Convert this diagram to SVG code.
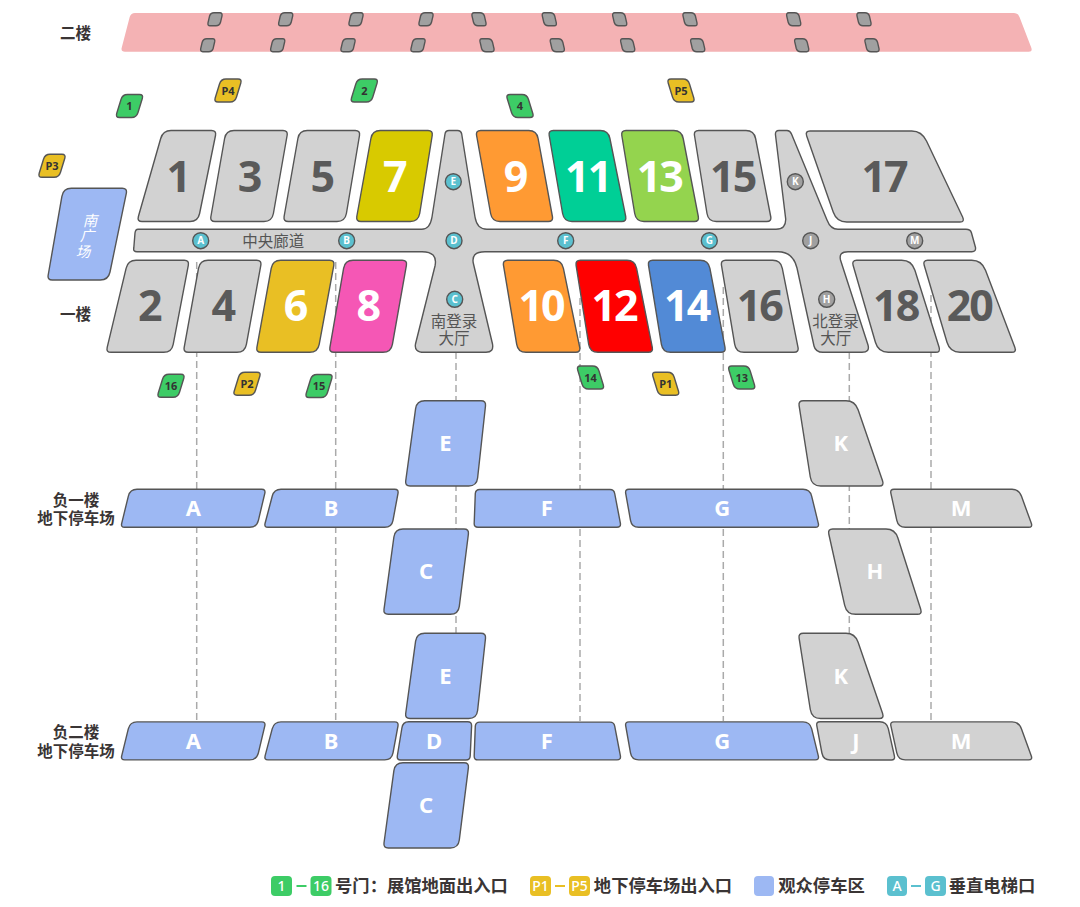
<svg xmlns="http://www.w3.org/2000/svg" width="1080" height="907" viewBox="0 0 1080 907">
<style>
text{font-family:"Noto Sans","Noto Sans CJK SC",sans-serif;text-anchor:middle;dominant-baseline:central}
.s{stroke:#555;stroke-width:1.4}
.g{fill:#d2d2d2}.b{fill:#9db8f3}.gr{fill:#3dcc66}.y{fill:#e9bf24}.e{fill:#a0a0a0}.t{fill:#5bc0cf}
.n{font-size:43px;font-weight:700;fill:#fff;letter-spacing:-2px;transform:translateY(-1.5px)}
.nd{font-size:43px;font-weight:700;fill:#5a5a5a;letter-spacing:-2px;transform:translateY(-1.5px)}
.l{font-size:22px;font-weight:700;fill:#fff;transform:translateY(-1.5px)}
.d{font-size:11px;font-weight:700;fill:#333}
.c{font-size:10px;font-weight:700;fill:#fff}
.z{font-size:15.5px;fill:#555}
.f{font-size:15.5px;font-weight:700;fill:#3a3535}
.k{font-size:17.3px;font-weight:700;fill:#3a3535}
.w{font-size:14px;font-weight:500;fill:#fff}
.dash{stroke:#aaa;stroke-width:1.5;stroke-dasharray:7 4;fill:none}
.p{font-size:14.5px;font-style:italic;fill:#fff}
</style>
<defs>
<path id="dr" d="M-2 -11.5H10Q14 -11.5 12.8 -7.5L8.5 6.5Q7 11.5 2 11.5H-10Q-14 11.5 -12.8 7.5L-8.5 -6.5Q-7 -11.5 -2 -11.5Z"/>
<path id="dl" transform="scale(-1 1)" d="M-2 -11.5H10Q14 -11.5 12.8 -7.5L8.5 6.5Q7 11.5 2 11.5H-10Q-14 11.5 -12.8 7.5L-8.5 -6.5Q-7 -11.5 -2 -11.5Z"/>
<path id="er" class="e s" d="M-1 -6.5H5Q7.5 -6.5 7 -3.5L5.5 3Q4.5 6.5 1 6.5H-5Q-7.5 6.5 -7 3.5L-5.5 -3Q-4.5 -6.5 -1 -6.5Z"/>
<path id="el" class="e s" transform="scale(-1 1)" d="M-1 -6.5H5Q7.5 -6.5 7 -3.5L5.5 3Q4.5 6.5 1 6.5H-5Q-7.5 6.5 -7 3.5L-5.5 -3Q-4.5 -6.5 -1 -6.5Z"/>
</defs>

<g id="connectors">
<path class="dash" d="M196.7 262V720M335.7 262V720M456 352V633M580 298V721M723.3 287V721M849.3 352V633M931 295V721"/>
</g>

<g id="floor-2">
<path fill="#f4b2b4" d="M135 13H1014Q1018 13 1019.5 17L1031.3 47.7Q1032.7 51.7 1028.7 51.7H125Q120.7 51.7 121.7 47.7L129.7 17Q131 13 135 13Z"/>
<use href="#er" x="215" y="19.3"/><use href="#er" x="285.7" y="19.3"/><use href="#er" x="356" y="19.3"/><use href="#er" x="426" y="19.3"/>
<g transform="translate(479 19.3)"><use href="#el"/></g><g transform="translate(549.3 19.3)"><use href="#el"/></g><g transform="translate(619.7 19.3)"><use href="#el"/></g><g transform="translate(690 19.3)"><use href="#el"/></g><g transform="translate(793.7 19.3)"><use href="#el"/></g><g transform="translate(864 19.3)"><use href="#el"/></g>
<use href="#er" x="207.7" y="45.2"/><use href="#er" x="277.7" y="45.2"/><use href="#er" x="348" y="45.2"/><use href="#er" x="418" y="45.2"/>
<g transform="translate(487 45.2)"><use href="#el"/></g><g transform="translate(557.3 45.2)"><use href="#el"/></g><g transform="translate(627.7 45.2)"><use href="#el"/></g><g transform="translate(697.7 45.2)"><use href="#el"/></g><g transform="translate(801.7 45.2)"><use href="#el"/></g><g transform="translate(872 45.2)"><use href="#el"/></g>
</g>

<g id="floor-labels">
<text class="f" x="75.5" y="32.7">二楼</text>
<text class="f" x="75.5" y="314">一楼</text>
<text class="f" x="76" y="500">负一楼</text>
<text class="f" x="76" y="517.5">地下停车场</text>
<text class="f" x="76" y="732.3">负二楼</text>
<text class="f" x="76" y="750.5">地下停车场</text>
</g>

<g id="corridor">
<path class="g s" d="M138 229.3H421.7Q430 229.3 432 217L445 134Q445.5 130.5 449 130.5H457.5Q461 130.5 461.7 134L475 217Q477 229.3 487 229.3H776Q786 229.3 785.7 219L775.5 135Q775 130.5 779 130.5H787Q790 130.5 791.5 134L827 220Q830.5 229.3 838 229.3H966Q970.5 229.3 971.5 233L975.5 247.5Q976 251.7 972 251.7H848Q838.5 251.7 840.5 260L868 345Q870 352.3 862 352.3H823Q815.5 352.3 814 346L797 268Q793 251.7 778 251.7H485Q470.5 251.7 473.5 264L492.5 344Q494 352.3 486 352.3H424Q414 352.3 415.5 344L435 266Q438 251.7 422 251.7H137Q133 251.7 133.8 248L135 233Q135.5 229.3 138 229.3Z"/>
<text class="z" x="273.3" y="240.5">中央廊道</text>
<text class="z" x="454" y="321">南登录</text><text class="z" x="454" y="338.3">大厅</text>
<text class="z" x="835.5" y="321">北登录</text><text class="z" x="835.7" y="338.3">大厅</text>
</g>

<g id="plaza">
<path class="b s" d="M71.3 188.3H122.3Q127.3 188.3 126.3 193.3L110 272Q108.3 280 100.3 280H52.3Q47.3 280 48.2 275L61.9 196.3Q63.3 188.3 71.3 188.3Z"/>
<text class="p" x="90" y="219.5">南</text>
<text class="p" x="87" y="235">广</text>
<text class="p" x="83" y="250.5">场</text>
</g>

<g id="hall-1"><path class="g s" d="M171 130.5H211.5Q216.5 130.5 215.5 135.5L199.6 213.5Q198 221.5 190 221.5H142Q137 221.5 138.4 216.5L160.7 138.5Q163 130.5 171 130.5Z"/><text class="nd" x="177.7" y="176.7">1</text></g>
<g id="hall-3"><path class="g s" d="M234 130.5H283Q288 130.5 287.1 135.5L273.4 213.5Q272 221.5 264 221.5H215Q210 221.5 210.9 216.5L224.6 138.5Q226 130.5 234 130.5Z"/><text class="nd" x="249" y="176.7">3</text></g>
<g id="hall-5"><path class="g s" d="M307.3 130.5H355.3Q360.3 130.5 359.5 135.5L346.4 213.5Q345 221.5 337 221.5H288.3Q283.3 221.5 284.1 216.5L297.9 138.5Q299.3 130.5 307.3 130.5Z"/><text class="nd" x="321.7" y="176.7">5</text></g>
<g id="hall-7"><path fill="#d8ca00" class="s" d="M380.3 130.5H428Q433 130.5 432.2 135.5L419.7 213.5Q418.3 221.5 410.3 221.5H361Q356 221.5 356.8 216.5L370.9 138.5Q372.3 130.5 380.3 130.5Z"/><text class="n" x="394.3" y="176.7">7</text></g>
<g id="hall-9"><path fill="#ff9a33" class="s" d="M480.7 130.5H528.7Q536.7 130.5 538.1 138.5L552.4 216.5Q553.3 221.5 548.3 221.5H500Q492 221.5 490.6 213.5L476.6 135.5Q475.7 130.5 480.7 130.5Z"/><text class="n" x="515" y="176.7">9</text></g>
<g id="hall-11"><path fill="#00cf96" class="s" d="M553.3 130.5H600.3Q608.3 130.5 609.9 138.5L625.7 216.5Q626.7 221.5 621.7 221.5H572Q564 221.5 562.6 213.5L549.2 135.5Q548.3 130.5 553.3 130.5Z"/><text class="n" x="587.7" y="176.7">11</text></g>
<g id="hall-13"><path fill="#94d44e" class="s" d="M626 130.5H673.7Q681.7 130.5 683.2 138.5L698.3 216.5Q699.3 221.5 694.3 221.5H644Q636 221.5 634.7 213.5L621.8 135.5Q621 130.5 626 130.5Z"/><text class="n" x="659.3" y="176.7">13</text></g>
<g id="hall-15"><path class="g s" d="M698.7 130.5H746Q754 130.5 755.6 138.5L770.7 216.5Q771.7 221.5 766.7 221.5H716.3Q708.3 221.5 707 213.5L694.5 135.5Q693.7 130.5 698.7 130.5Z"/><text class="nd" x="732.7" y="176.7">15</text></g>
<g id="hall-17"><path class="g s" d="M810 131H911.7Q921.7 131 926.5 141L962.6 217Q965 222 960 222H846.7Q836.7 222 833.2 212L806.7 136Q805 131 810 131Z"/><text class="nd" x="884" y="176.7">17</text></g>
<g id="hall-2"><path class="g s" d="M136 260.3H184.3Q189.3 260.3 188.3 265.3L173.2 344.3Q171.7 352.3 163.7 352.3H111Q106 352.3 107.2 347.3L126.1 268.3Q128 260.3 136 260.3Z"/><text class="nd" x="149.3" y="306">2</text></g>
<g id="hall-4"><path class="g s" d="M208 260.3H256.7Q261.7 260.3 260.8 265.3L246.4 344.3Q245 352.3 237 352.3H188.3Q183.3 352.3 184.2 347.3L198.5 268.3Q200 260.3 208 260.3Z"/><text class="nd" x="222.7" y="306">4</text></g>
<g id="hall-6"><path class="y s" d="M280.7 260.3H329.7Q334.7 260.3 333.8 265.3L319.2 344.3Q317.7 352.3 309.7 352.3H261Q256 352.3 256.9 347.3L271.2 268.3Q272.7 260.3 280.7 260.3Z"/><text class="n" x="295" y="306">6</text></g>
<g id="hall-8"><path fill="#f557b5" class="s" d="M353 260.3H402.3Q407.3 260.3 406.4 265.3L392.4 344.3Q391 352.3 383 352.3H334Q329 352.3 329.9 347.3L343.6 268.3Q345 260.3 353 260.3Z"/><text class="n" x="367.7" y="306">8</text></g>
<g id="hall-10"><path fill="#ff9a33" class="s" d="M507.7 260.3H553.7Q561.7 260.3 563.4 268.3L579.7 347.3Q580.7 352.3 575.7 352.3H526Q518 352.3 516.7 344.3L503.5 265.3Q502.7 260.3 507.7 260.3Z"/><text class="n" x="541" y="306">10</text></g>
<g id="hall-12"><path fill="#f00" class="s" d="M580.3 260.3H627Q635 260.3 636.6 268.3L652.3 347.3Q653.3 352.3 648.3 352.3H598Q590 352.3 588.7 344.3L576.1 265.3Q575.3 260.3 580.3 260.3Z"/><text class="n" x="614" y="306">12</text></g>
<g id="hall-14"><path fill="#528ad6" class="s" d="M652.7 260.3H700.3Q708.3 260.3 709.9 268.3L725 347.3Q726 352.3 721 352.3H670.7Q662.7 352.3 661.4 344.3L648.5 265.3Q647.7 260.3 652.7 260.3Z"/><text class="n" x="686.7" y="306">14</text></g>
<g id="hall-16"><path class="g s" d="M725.7 260.3H772.7Q780.7 260.3 782.3 268.3L798 347.3Q799 352.3 794 352.3H744Q736 352.3 734.7 344.3L721.5 265.3Q720.7 260.3 725.7 260.3Z"/><text class="nd" x="759.3" y="306">16</text></g>
<g id="hall-18"><path class="g s" d="M856.7 260.3H901.7Q911.7 260.3 914.9 270.3L939.1 347.3Q940.7 352.3 935.7 352.3H888.3Q878.3 352.3 875.4 342.3L853.1 265.3Q851.7 260.3 856.7 260.3Z"/><text class="nd" x="895.7" y="306">18</text></g>
<g id="hall-20"><path class="g s" d="M927.7 260.3H971.7Q981.7 260.3 985.5 270.3L1014.8 347.3Q1016.7 352.3 1011.7 352.3H960Q950 352.3 947 342.3L924.2 265.3Q922.7 260.3 927.7 260.3Z"/><text class="nd" x="969.3" y="306">20</text></g>

<g id="lift-A"><circle class="t s" cx="200.7" cy="240.7" r="8"/><text class="c" x="200.7" y="240.2">A</text></g>
<g id="lift-B"><circle class="t s" cx="346.7" cy="240.7" r="8"/><text class="c" x="346.7" y="240.2">B</text></g>
<g id="lift-C"><circle class="t s" cx="454.7" cy="299.3" r="8"/><text class="c" x="454.7" y="298.8">C</text></g>
<g id="lift-D"><circle class="t s" cx="454" cy="240.7" r="8"/><text class="c" x="454" y="240.2">D</text></g>
<g id="lift-E"><circle class="t s" cx="453.3" cy="181.7" r="8"/><text class="c" x="453.3" y="181.2">E</text></g>
<g id="lift-F"><circle class="t s" cx="565.7" cy="240.7" r="8"/><text class="c" x="565.7" y="240.2">F</text></g>
<g id="lift-G"><circle class="t s" cx="709.3" cy="240.7" r="8"/><text class="c" x="709.3" y="240.2">G</text></g>
<g id="lift-H"><circle class="e s" cx="826.7" cy="299.3" r="8"/><text class="c" x="826.7" y="298.8">H</text></g>
<g id="lift-J"><circle class="e s" cx="810.7" cy="240.7" r="8"/><text class="c" x="810.7" y="240.2">J</text></g>
<g id="lift-K"><circle class="e s" cx="795.3" cy="181.7" r="8"/><text class="c" x="795.3" y="181.2">K</text></g>
<g id="lift-M"><circle class="e s" cx="914.7" cy="240.7" r="8"/><text class="c" x="914.7" y="240.2">M</text></g>

<g id="door-1" transform="translate(129.5 106)"><use href="#dr" class="gr s"/><text class="d" y="-0.5">1</text></g>
<g id="door-2" transform="translate(364.3 90.5)"><use href="#dr" class="gr s"/><text class="d" y="-0.5">2</text></g>
<g id="door-4" transform="translate(520 106)"><use href="#dl" class="gr s"/><text class="d" y="-0.5">4</text></g>
<g id="door-13" transform="translate(741.7 377.5)"><use href="#dl" class="gr s"/><text class="d" y="-0.5">13</text></g>
<g id="door-14" transform="translate(590.5 377.5)"><use href="#dl" class="gr s"/><text class="d" y="-0.5">14</text></g>
<g id="door-15" transform="translate(319 386)"><use href="#dr" class="gr s"/><text class="d" y="-0.5">15</text></g>
<g id="door-16" transform="translate(171 385.8)"><use href="#dr" class="gr s"/><text class="d" y="-0.5">16</text></g>
<g id="door-P1" transform="translate(665.7 383.7)"><use href="#dl" class="y s"/><text class="d" y="-0.5">P1</text></g>
<g id="door-P2" transform="translate(247 383.7)"><use href="#dr" class="y s"/><text class="d" y="-0.5">P2</text></g>
<g id="door-P3" transform="translate(52 165.8)"><use href="#dr" class="y s"/><text class="d" y="-0.5">P3</text></g>
<g id="door-P4" transform="translate(228 90.5)"><use href="#dr" class="y s"/><text class="d" y="-0.5">P4</text></g>
<g id="door-P5" transform="translate(681 90.5)"><use href="#dl" class="y s"/><text class="d" y="-0.5">P5</text></g>

<g id="b1-A"><path class="b s" d="M137 489.3H261.7Q265.7 489.3 264.8 493.3L258.4 520.3Q256.7 527.3 249.7 527.3H124.7Q120.7 527.3 121.7 523.3L128.3 496.3Q130 489.3 137 489.3Z"/><text class="l" x="193.3" y="508.5">A</text></g>
<g id="b1-B"><path class="b s" d="M281 489.3H394.7Q398.7 489.3 398 493.3L393 520.3Q391.7 527.3 384.7 527.3H268Q264 527.3 265.1 523.3L272.2 496.3Q274 489.3 281 489.3Z"/><text class="l" x="331" y="508.5">B</text></g>
<g id="b1-F"><path class="b s" d="M479.7 489.5H610Q614 489.5 614.7 493.5L620.4 523.3Q621 527.3 617 527.3H478Q474 527.3 474.2 523.3L475.3 493.5Q475.7 489.5 479.7 489.5Z"/><text class="l" x="546.7" y="508.5">F</text></g>
<g id="b1-G"><path class="b s" d="M629 489.3H803Q810 489.3 811.7 496.3L818.3 523.3Q819.3 527.3 815.3 527.3H638.7Q631.7 527.3 630.5 520.3L625.7 493.3Q625 489.3 629 489.3Z"/><text class="l" x="722.3" y="508.5">G</text></g>
<g id="b1-M"><path class="g s" d="M894 489.3H1012Q1019 489.3 1021.5 496.3L1031.3 523.3Q1032.7 527.3 1028.7 527.3H905.3Q898.3 527.3 896.8 520.3L890.9 493.3Q890 489.3 894 489.3Z"/><text class="l" x="961" y="508.5">M</text></g>
<g id="b1-E"><path class="b s" d="M424.7 400.7H481Q486 400.7 485.5 405.7L477.6 478Q476.7 486 468.7 486H410Q405 486 405.7 481L415.6 408.7Q416.7 400.7 424.7 400.7Z"/><text class="l" x="445.3" y="443.7">E</text></g>
<g id="b1-C"><path class="b s" d="M403 529H464Q469 529 468.4 534L459.3 606.3Q458.3 614.3 450.3 614.3H388.3Q383.3 614.3 384 609.3L393.9 537Q395 529 403 529Z"/><text class="l" x="426" y="571.7">C</text></g>
<g id="b1-K"><path class="g s" d="M803.3 400.7H846Q855 400.7 858.1 409.7L882.6 481Q884.3 486 879.3 486H820.7Q811.7 486 810.3 477L799.1 405.7Q798.3 400.7 803.3 400.7Z"/><text class="l" x="840.7" y="443.7">K</text></g>
<g id="b1-H"><path class="g s" d="M832.7 529H886Q895 529 897.9 538L920.7 609.3Q922.3 614.3 917.3 614.3H855.7Q846.7 614.3 844.7 605.3L828.8 534Q827.7 529 832.7 529Z"/><text class="l" x="875" y="571.7">H</text></g>

<g id="b2-A" transform="translate(0 232.6)"><path class="b s" d="M137 489.3H261.7Q265.7 489.3 264.8 493.3L258.4 520.3Q256.7 527.3 249.7 527.3H124.7Q120.7 527.3 121.7 523.3L128.3 496.3Q130 489.3 137 489.3Z"/><text class="l" x="193.3" y="508.5">A</text></g>
<g id="b2-B" transform="translate(0 232.6)"><path class="b s" d="M281 489.3H394.7Q398.7 489.3 398 493.3L393 520.3Q391.7 527.3 384.7 527.3H268Q264 527.3 265.1 523.3L272.2 496.3Q274 489.3 281 489.3Z"/><text class="l" x="331" y="508.5">B</text></g>
<g id="b2-F" transform="translate(0 232.6)"><path class="b s" d="M479.7 489.5H610Q614 489.5 614.7 493.5L620.4 523.3Q621 527.3 617 527.3H478Q474 527.3 474.2 523.3L475.3 493.5Q475.7 489.5 479.7 489.5Z"/><text class="l" x="546.7" y="508.5">F</text></g>
<g id="b2-G" transform="translate(0 232.6)"><path class="b s" d="M629 489.3H803Q810 489.3 811.7 496.3L818.3 523.3Q819.3 527.3 815.3 527.3H638.7Q631.7 527.3 630.5 520.3L625.7 493.3Q625 489.3 629 489.3Z"/><text class="l" x="722.3" y="508.5">G</text></g>
<g id="b2-M" transform="translate(0 232.6)"><path class="g s" d="M894 489.3H1012Q1019 489.3 1021.5 496.3L1031.3 523.3Q1032.7 527.3 1028.7 527.3H905.3Q898.3 527.3 896.8 520.3L890.9 493.3Q890 489.3 894 489.3Z"/><text class="l" x="961" y="508.5">M</text></g>
<g id="b2-E" transform="translate(0 232.5)"><path class="b s" d="M424.7 400.7H481Q486 400.7 485.5 405.7L477.6 478Q476.7 486 468.7 486H410Q405 486 405.7 481L415.6 408.7Q416.7 400.7 424.7 400.7Z"/><text class="l" x="445.3" y="443.7">E</text></g>
<g id="b2-C" transform="translate(0 233.7)"><path class="b s" d="M403 529H464Q469 529 468.4 534L459.3 606.3Q458.3 614.3 450.3 614.3H388.3Q383.3 614.3 384 609.3L393.9 537Q395 529 403 529Z"/><text class="l" x="426" y="571.7">C</text></g>
<g id="b2-K" transform="translate(0 232.5)"><path class="g s" d="M803.3 400.7H846Q855 400.7 858.1 409.7L882.6 481Q884.3 486 879.3 486H820.7Q811.7 486 810.3 477L799.1 405.7Q798.3 400.7 803.3 400.7Z"/><text class="l" x="840.7" y="443.7">K</text></g>
<g id="b2-D"><path class="b s" d="M408.7 721.7H467.7Q471.7 721.7 471.6 725.7L470.2 756Q470 760 466 760H400.7Q396.7 760 397.3 756L401.9 728Q402.7 721.7 408.7 721.7Z"/><text class="l" x="434" y="741">D</text></g>
<g id="b2-J"><path class="g s" d="M820 721.7H879.7Q886.7 721.7 888.3 728.7L894.4 756Q895.3 760 891.3 760H830.3Q823.3 760 821.9 753L816.8 725.7Q816 721.7 820 721.7Z"/><text class="l" x="856" y="741">J</text></g>

<g id="legend">
<rect class="gr" x="271" y="876" width="21" height="20" rx="4"/><text class="w" x="281.5" y="885.5">1</text>
<rect class="gr" x="296.5" y="885" width="10" height="2"/>
<rect class="gr" x="310.5" y="876" width="21" height="20" rx="4"/><text class="w" x="321" y="885.5">16</text>
<text class="k" x="421.5" y="885.5">号门：展馆地面出入口</text>
<rect class="y" x="530" y="876" width="21" height="20" rx="4"/><text class="w" x="540.5" y="885.5">P1</text>
<rect class="y" x="555" y="885" width="10" height="2"/>
<rect class="y" x="569" y="876" width="21" height="20" rx="4"/><text class="w" x="579.5" y="885.5">P5</text>
<text class="k" x="663" y="885.5">地下停车场出入口</text>
<rect class="b" x="754" y="876" width="20" height="20" rx="4"/>
<text class="k" x="821.5" y="885.5">观众停车区</text>
<rect class="t" x="887" y="876" width="20" height="20" rx="4"/><text class="w" x="897" y="885.5">A</text>
<rect class="t" x="911" y="885" width="10" height="2"/>
<rect class="t" x="925" y="876" width="21" height="20" rx="4"/><text class="w" x="935.5" y="885.5">G</text>
<text class="k" x="992" y="885.5">垂直电梯口</text>
</g>
</svg>
